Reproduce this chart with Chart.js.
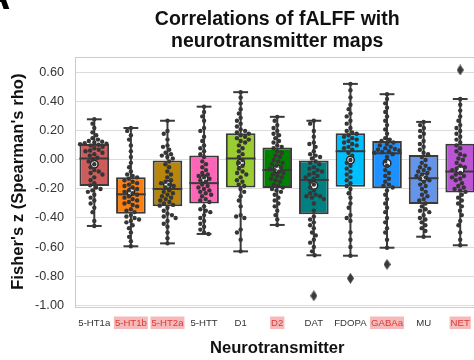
<!DOCTYPE html>
<html><head><meta charset="utf-8">
<script src="https://cdn.jsdelivr.net/npm/chart.js@4"></script>
<style>
html,body{margin:0;padding:0;overflow:hidden;background:#fff;width:474px;height:360px}
#wrap{width:484px;height:360px}
</style></head>
<body><div id="wrap"><canvas id="c" width="484" height="360"></canvas></div>
<script>
// ---------- data ----------
const categories = ['5-HT1a','5-HT1b','5-HT2a','5-HTT','D1','D2','DAT','FDOPA','GABAa','MU','NET'];
const highlighted = ['5-HT1b','5-HT2a','D2','GABAa','NET'];
const boxColors = ['#cd5c5c','#fb8012','#b8860b','#fb67b6','#9acd32','#008000','#008080','#00bfff','#1e90ff','#6495ed','#ba55d3'];
const whiskerHigh = [0.28,0.22,0.27,0.367,0.467,0.297,0.27,0.524,0.453,0.262,0.42];
const q3 = [0.11,-0.12,0.0,0.03,0.184,0.085,0.0,0.184,0.131,0.034,0.112];
const medians = [0.01,-0.237,-0.20,-0.16,0.01,-0.069,-0.138,0.06,0.046,-0.126,-0.08];
const q1 = [-0.18,-0.37,-0.32,-0.30,-0.19,-0.193,-0.375,-0.184,-0.195,-0.303,-0.225];
const whiskerLow = [-0.455,-0.595,-0.575,-0.51,-0.63,-0.448,-0.657,-0.66,-0.605,-0.529,-0.588];
const means = [-0.03,-0.22,-0.17,-0.13,-0.023,-0.062,-0.177,0.0,-0.023,-0.12,-0.069];
const outlierCats = ['DAT','FDOPA','GABAa','NET'];
const outlierVals = [-0.936,-0.816,-0.72,0.62];
const yTicks = [-1.0,-0.8,-0.6,-0.4,-0.2,0.0,0.2,0.4,0.6];

const pts5HT1a = [0.28,0.25,0.22,0.19,0.17,0.15,0.14,0.13,0.125,0.12,0.115,0.112,0.108,0.105,0.10,0.09,0.08,0.07,0.065,0.06,0.05,0.04,0.03,0.015,0.005,-0.01,-0.03,-0.05,-0.07,-0.08,-0.09,-0.10,-0.12,-0.14,-0.16,-0.175,-0.19,-0.20,-0.21,-0.22,-0.24,-0.26,-0.28,-0.30,-0.33,-0.36,-0.42,-0.455];
const pts5HT1b = [0.22,0.20,0.17,0.14,0.10,0.06,0.02,-0.02,-0.05,-0.08,-0.10,-0.11,-0.12,-0.13,-0.14,-0.15,-0.16,-0.17,-0.18,-0.19,-0.20,-0.21,-0.22,-0.23,-0.24,-0.25,-0.26,-0.27,-0.28,-0.29,-0.30,-0.31,-0.32,-0.34,-0.35,-0.36,-0.38,-0.39,-0.40,-0.41,-0.42,-0.43,-0.45,-0.47,-0.50,-0.53,-0.56,-0.595];
const pts5HT2a = [0.27,0.20,0.18,0.14,0.10,0.09,0.07,0.05,0.04,0.03,0.02,0.01,-0.01,-0.03,-0.05,-0.08,-0.10,-0.12,-0.14,-0.15,-0.16,-0.17,-0.18,-0.19,-0.21,-0.22,-0.23,-0.24,-0.25,-0.26,-0.27,-0.28,-0.29,-0.30,-0.31,-0.315,-0.33,-0.35,-0.37,-0.38,-0.39,-0.40,-0.42,-0.44,-0.46,-0.50,-0.54,-0.575];
const pts5HTT = [0.367,0.33,0.30,0.27,0.22,0.20,0.16,0.13,0.10,0.08,0.06,0.04,0.02,-0.01,-0.03,-0.05,-0.07,-0.09,-0.10,-0.11,-0.12,-0.13,-0.14,-0.15,-0.17,-0.18,-0.19,-0.20,-0.21,-0.22,-0.23,-0.24,-0.25,-0.27,-0.28,-0.29,-0.32,-0.34,-0.35,-0.36,-0.38,-0.40,-0.42,-0.44,-0.46,-0.48,-0.50,-0.51];
const ptsD1 = [0.467,0.43,0.39,0.35,0.32,0.29,0.27,0.25,0.23,0.21,0.20,0.19,0.18,0.17,0.16,0.15,0.14,0.13,0.12,0.10,0.08,0.06,0.04,0.02,0.0,-0.02,-0.04,-0.06,-0.08,-0.09,-0.10,-0.12,-0.14,-0.15,-0.17,-0.18,-0.20,-0.22,-0.25,-0.28,-0.32,-0.38,-0.39,-0.40,-0.48,-0.50,-0.55,-0.63];
const ptsD2 = [0.297,0.27,0.24,0.22,0.20,0.18,0.17,0.15,0.13,0.12,0.10,0.09,0.08,0.06,0.05,0.03,0.02,0.0,-0.01,-0.02,-0.03,-0.04,-0.05,-0.06,-0.07,-0.08,-0.09,-0.10,-0.11,-0.12,-0.13,-0.14,-0.15,-0.17,-0.18,-0.19,-0.20,-0.21,-0.22,-0.24,-0.26,-0.28,-0.30,-0.32,-0.35,-0.38,-0.41,-0.448];
const ptsDAT = [0.27,0.25,0.20,0.16,0.12,0.11,0.09,0.06,0.04,0.03,0.02,0.01,-0.01,-0.02,-0.03,-0.05,-0.06,-0.07,-0.08,-0.09,-0.10,-0.11,-0.12,-0.13,-0.15,-0.17,-0.19,-0.21,-0.23,-0.24,-0.25,-0.25,-0.26,-0.27,-0.30,-0.35,-0.39,-0.41,-0.43,-0.45,-0.47,-0.50,-0.52,-0.55,-0.57,-0.60,-0.63,-0.657];
const ptsFDOPA = [0.524,0.48,0.43,0.38,0.35,0.32,0.30,0.27,0.25,0.22,0.20,0.19,0.18,0.17,0.16,0.15,0.14,0.13,0.12,0.11,0.10,0.09,0.08,0.07,0.05,0.03,0.0,-0.02,-0.04,-0.06,-0.08,-0.10,-0.12,-0.14,-0.16,-0.18,-0.20,-0.23,-0.26,-0.30,-0.33,-0.38,-0.40,-0.42,-0.50,-0.55,-0.60,-0.66];
const ptsGABAa = [0.453,0.42,0.39,0.36,0.33,0.30,0.27,0.24,0.21,0.18,0.15,0.14,0.13,0.12,0.11,0.10,0.09,0.08,0.075,0.07,0.065,0.06,0.055,0.05,0.04,0.02,-0.01,-0.04,-0.07,-0.09,-0.11,-0.13,-0.15,-0.17,-0.18,-0.19,-0.21,-0.24,-0.27,-0.30,-0.33,-0.36,-0.40,-0.43,-0.47,-0.50,-0.55,-0.605];
const ptsMU = [0.262,0.24,0.22,0.20,0.18,0.16,0.13,0.11,0.09,0.07,0.05,0.04,0.02,0.0,-0.02,-0.04,-0.05,-0.06,-0.07,-0.08,-0.09,-0.10,-0.11,-0.12,-0.13,-0.14,-0.15,-0.17,-0.18,-0.20,-0.22,-0.24,-0.25,-0.27,-0.28,-0.30,-0.32,-0.34,-0.35,-0.36,-0.38,-0.40,-0.41,-0.43,-0.45,-0.47,-0.49,-0.529];
const ptsNET = [0.42,0.38,0.34,0.30,0.27,0.24,0.22,0.20,0.18,0.16,0.14,0.12,0.10,0.08,0.06,0.04,0.03,0.01,0.0,-0.02,-0.04,-0.05,-0.06,-0.07,-0.09,-0.10,-0.11,-0.12,-0.13,-0.14,-0.16,-0.18,-0.19,-0.20,-0.21,-0.22,-0.24,-0.26,-0.28,-0.30,-0.32,-0.35,-0.38,-0.42,-0.45,-0.50,-0.55,-0.588];
const swarmSets = [pts5HT1a,pts5HT1b,pts5HT2a,pts5HTT,ptsD1,ptsD2,ptsDAT,ptsFDOPA,ptsGABAa,ptsMU,ptsNET];

// ---------- style ----------
const LINE = '#3a3a3a';
const FONT = "'Liberation Sans', Arial, Helvetica, sans-serif";
const DOT_R = 2.2, DOT_D = 4.7;

// thin diamond marker for outliers
const diamond = document.createElement('canvas');
diamond.width = 7; diamond.height = 11;
(function () {
  const g = diamond.getContext('2d');
  g.fillStyle = LINE;
  g.beginPath(); g.moveTo(3.5, 0); g.lineTo(7, 5.5); g.lineTo(3.5, 11); g.lineTo(0, 5.5); g.closePath(); g.fill();
})();

// ---------- plugins ----------
const frame = {
  id: 'frame',
  beforeDatasetsDraw(chart) {
    const {ctx, chartArea: a} = chart;
    ctx.save();
    ctx.strokeStyle = '#cccccc'; ctx.lineWidth = 1;
    ctx.strokeRect(Math.round(a.left) - 0.5, Math.round(a.top) + 0.5, Math.round(a.right - a.left) + 2, Math.round(a.bottom - a.top));
    ctx.restore();
  }
};
const boxExtras = {
  id: 'boxExtras',
  afterDatasetDraw(chart, args) {
    if (args.meta.label !== 'boxes') return;
    const {ctx, scales: {x, y}} = chart;
    ctx.save();
    ctx.strokeStyle = LINE; ctx.lineWidth = 2;
    const seg = (x1, y1, x2, y2) => { ctx.beginPath(); ctx.moveTo(x1, y1); ctx.lineTo(x2, y2); ctx.stroke(); };
    categories.forEach((c, i) => {
      const cx = x.getPixelForValue(i);
      const hw = args.meta.data[i].width / 2;
      const cw = hw / 2;
      const yH = y.getPixelForValue(whiskerHigh[i]), yL = y.getPixelForValue(whiskerLow[i]);
      seg(cx, y.getPixelForValue(q3[i]), cx, yH);
      seg(cx, y.getPixelForValue(q1[i]), cx, yL);
      seg(cx - cw, yH, cx + cw, yH);
      seg(cx - cw, yL, cx + cw, yL);
      const ym = y.getPixelForValue(medians[i]);
      seg(cx - hw, ym, cx + hw, ym);
    });
    ctx.restore();
  }
};
const panelLetter = {
  id: 'panelLetter',
  afterDraw(chart) {
    const ctx = chart.ctx;
    ctx.save();
    ctx.fillStyle = '#000'; ctx.font = 'bold 40px ' + FONT;
    ctx.textAlign = 'right'; ctx.textBaseline = 'alphabetic';
    ctx.fillText('A', 10.5, 8.5);
    ctx.restore();
  }
};

// ---------- datasets ----------
const boxData = categories.map((c, i) => ({x: i, y: [q1[i], q3[i]]}));
const meanData = categories.map((c, i) => ({x: i, y: means[i]}));
const outlierData = outlierCats.map((c, k) => ({x: categories.indexOf(c), y: outlierVals[k]}));
const swarmData = [];
swarmSets.forEach((vals, i) => vals.forEach(v => swarmData.push({x: i, y: v})));

const chart = new Chart(document.getElementById('c'), {
  type: 'bar',
  data: {
    datasets: [
      {label: 'swarm', type: 'scatter', data: swarmData, order: 0,
       pointRadius: DOT_R, pointBackgroundColor: '#363636', pointBorderWidth: 0, pointHoverRadius: DOT_R},
      {label: 'means', type: 'scatter', data: meanData, order: 1,
       pointStyle: 'circle', pointRadius: 3.8, pointBackgroundColor: '#ffffff', pointBorderColor: '#222', pointBorderWidth: 1.5},
      {label: 'outliers', type: 'scatter', data: outlierData, order: 2,
       pointStyle: diamond, pointRadius: 4},
      {label: 'boxes', type: 'bar', data: boxData, order: 3,
       backgroundColor: boxColors, borderColor: LINE, borderWidth: 2, borderSkipped: false,
       barPercentage: 0.81, categoryPercentage: 1}
    ]
  },
  options: {
    responsive: false,
    animation: false,
    events: [],
    layout: {padding: {left: 0, top: 0, right: 4, bottom: 0}},
    plugins: {
      legend: {display: false},
      tooltip: {enabled: false},
      title: {
        display: true, fullSize: false,
        text: ['Correlations of fALFF with', 'neurotransmitter maps'],
        color: '#111',
        font: {family: FONT, size: 19.5, weight: 'bold', lineHeight: 1.1},
        padding: {top: 9, bottom: 5}
      }
    },
    scales: {
      x: {
        type: 'linear', min: -0.5, max: 10.5, offset: false,
        grid: {display: false, offset: false, drawTicks: false},
        border: {display: false},
        afterBuildTicks: s => { s.ticks = categories.map((c, i) => ({value: i})); },
        afterFit: s => { s.height = 53.5; },
        ticks: {
          autoSkip: false, maxRotation: 0, padding: 11,
          font: {family: FONT, size: 9.6},
          callback: v => categories[v],
          color: ctx => highlighted.includes(categories[ctx.tick.value]) ? '#d83a3a' : '#333',
          showLabelBackdrop: ctx => highlighted.includes(categories[ctx.tick.value]),
          backdropColor: '#f6b9b9',
          backdropPadding: {top: 1, bottom: 0, left: 1, right: 1}
        },
        title: {display: true, text: 'Neurotransmitter', color: '#111',
          font: {family: FONT, size: 16.6, weight: 'bold'}, padding: {top: 0, bottom: 2}}
      },
      y: {
        type: 'linear', min: -1.01, max: 0.71,
        grid: {color: '#dcdcdc', lineWidth: 1, drawTicks: false},
        border: {display: false},
        afterBuildTicks: s => { s.ticks = yTicks.map(v => ({value: v})); },
        afterFit: s => { s.width = 76; },
        ticks: {padding: 12, color: '#333', font: {family: FONT, size: 12.7},
          callback: v => v.toFixed(2)},
        title: {display: true, text: "Fisher's z (Spearman's rho)", color: '#111',
          font: {family: FONT, size: 16.6, weight: 'bold'}, padding: {top: 8.5, bottom: 0}}
      }
    }
  },
  plugins: [frame, boxExtras, panelLetter]
});

// ---------- swarm layout (pixel space via the chart's scales) ----------
function beeswarm(ys, d) {
  const order = ys.map((y, i) => i).sort((a, b) => ys[a] - ys[b]);
  const placed = [], xs = new Array(ys.length);
  for (const i of order) {
    const y = ys[i];
    const near = placed.filter(p => Math.abs(p.y - y) < d);
    const cands = [0];
    near.forEach(p => { const dx = Math.sqrt(d * d - (p.y - y) ** 2); cands.push(p.x - dx, p.x + dx); });
    cands.sort((a, b) => Math.abs(a) - Math.abs(b));
    let best = 0;
    for (const c of cands) {
      if (near.every(p => (p.x - c) ** 2 + (p.y - y) ** 2 >= d * d - 1e-6)) { best = c; break; }
    }
    placed.push({x: best, y}); xs[i] = best;
  }
  return xs;
}
(function layoutSwarm() {
  const x = chart.scales.x, y = chart.scales.y;
  const out = [];
  swarmSets.forEach((vals, i) => {
    const cx = x.getPixelForValue(i);
    const offs = beeswarm(vals.map(v => y.getPixelForValue(v)), DOT_D);
    vals.forEach((v, k) => out.push({x: x.getValueForPixel(cx + offs[k]), y: v}));
  });
  chart.data.datasets[0].data = out;
  chart.update('none');
})();
</script></body></html>
